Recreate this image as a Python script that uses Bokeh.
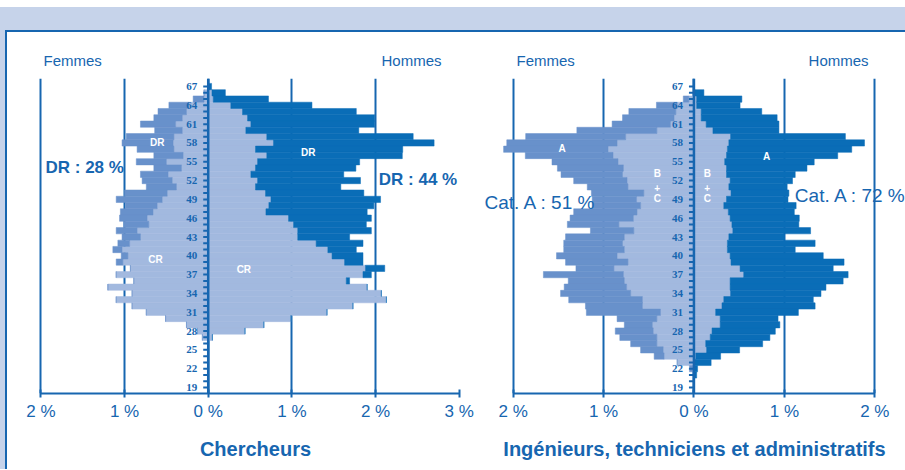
from bokeh.plotting import figure
from bokeh.models import Range1d, FixedTicker, Span, Label, Div, LinearAxis
from bokeh.layouts import row, column
from bokeh.embed import file_html
from bokeh.resources import INLINE
from bokeh.core.properties import value

# ---------------- data (percent of staff, by age 67 -> 19) ----------------
AGES = list(range(67, 18, -1))
AGE_LABELS = list(range(67, 18, -3))

# Chercheurs
CH_F_CR = [0, 0.05, 0.05, 0.23, 0.26, 0.31, 0.39, 0.31, 0.41, 0.42, 0.41, 0.30, 0.50, 0.32,
           0.48, 0.43, 0.38, 0.49, 0.55, 0.61, 0.66, 0.73, 0.71, 0.85, 0.81, 0.94, 1.03, 0.96,
           1.02, 0.93, 1.10, 0.89, 1.20, 0.91, 1.10, 0.91, 0.74, 0.51, 0.26, 0.13, 0.07,
           0, 0, 0, 0, 0, 0, 0, 0]
CH_F_DR = [0, 0, 0.13, 0.24, 0.34, 0.34, 0.42, 0.33, 0.57, 0.61, 0.44, 0.35, 0.36, 0.33,
           0.33, 0.36, 0.36, 0.51, 0.55, 0.38, 0.39, 0.33, 0.30, 0.25, 0.22, 0.14, 0.11, 0.08,
           0.08, 0, 0, 0, 0, 0, 0, 0, 0, 0, 0, 0, 0,
           0, 0, 0, 0, 0, 0, 0, 0]
CH_M_CR = [0, 0.045, 0.06, 0.27, 0.41, 0.47, 0.51, 0.45, 0.70, 0.78, 0.565, 0.70, 0.59, 0.565,
           0.51, 0.59, 0.565, 0.685, 0.75, 0.725, 0.69, 0.96, 1.02, 1.07, 1.07, 1.29, 1.43, 1.48,
           1.63, 1.88, 1.85, 1.65, 1.90, 2.07, 2.13, 1.73, 1.42, 0.99, 0.665, 0.44, 0.05,
           0, 0, 0, 0, 0, 0, 0, 0]
CH_M_DR = [0.04, 0.16, 0.66, 0.97, 1.36, 1.52, 1.48, 1.35, 1.75, 1.92, 1.76, 1.62, 1.22, 1.20,
           1.11, 1.23, 1.02, 1.175, 1.31, 1.255, 1.21, 0.99, 0.87, 0.88, 0.62, 0.56, 0.34, 0.37,
           0.22, 0.23, 0.10, 0.04, 0, 0, 0, 0, 0, 0, 0, 0, 0,
           0, 0, 0, 0, 0, 0, 0, 0]

# Ingenieurs, techniciens et administratifs
ITA_F_BC = [0, 0, 0.056, 0.185, 0.20, 0.22, 0.26, 0.41, 0.755, 0.85, 0.95, 0.895, 0.84, 0.78,
            0.79, 0.74, 0.73, 0.554, 0.635, 0.59, 0.63, 0.67, 0.83, 0.665, 0.77, 0.79, 0.77, 0.85,
            0.73, 0.885, 0.78, 0.77, 0.745, 0.70, 0.57, 0.57, 0.37, 0.41, 0.46, 0.45, 0.41,
            0.41, 0.34, 0.33, 0.185, 0, 0, 0, 0]
ITA_F_A = [0, 0, 0.062, 0.23, 0.52, 0.57, 0.645, 0.885, 1.106, 1.22, 1.155, 0.97, 0.73, 0.73,
           0.68, 0.59, 0.45, 0.58, 0.49, 0.535, 0.70, 0.70, 0.57, 0.48, 0.65, 0.65, 0.67, 0.67,
           0.69, 0.42, 0.885, 0.62, 0.69, 0.775, 0.815, 0.63, 0.82, 0.44, 0.31, 0.42, 0.41,
           0.29, 0.25, 0.11, 0, 0.05, 0, 0, 0]
ITA_M_BC = [0, 0.01, 0.03, 0.03, 0.08, 0.08, 0.135, 0.21, 0.405, 0.386, 0.37, 0.36, 0.34, 0.36,
            0.36, 0.40, 0.386, 0.41, 0.36, 0.33, 0.38, 0.40, 0.42, 0.43, 0.386, 0.37, 0.37, 0.40,
            0.41, 0.51, 0.55, 0.40, 0.40, 0.405, 0.33, 0.31, 0.24, 0.29, 0.29, 0.20, 0.18,
            0.13, 0.14, 0.02, 0, 0, 0, 0, 0]
ITA_M_A = [0, 0.10, 0.50, 0.48, 0.67, 0.84, 0.805, 0.73, 1.27, 1.50, 1.375, 1.23, 0.99, 0.89,
           0.76, 0.69, 0.645, 0.64, 0.68, 0.80, 0.73, 0.765, 0.74, 0.86, 0.615, 0.97, 0.75, 1.03,
           1.25, 1.03, 1.155, 1.25, 1.06, 1.00, 0.99, 1.03, 0.915, 0.64, 0.66, 0.70, 0.66,
           0.63, 0.365, 0.275, 0.19, 0.04, 0.03, 0, 0]

CH_TICKS = [-2, -1, 0, 1, 2, 3]
ITA_TICKS = [-2, -1, 0, 1, 2]
TICK_TEXT = {-2: "2 %", -1: "1 %", 0: "0 %", 1: "1 %", 2: "2 %", 3: "3 %"}
SEX_TEXT = ["Femmes", "Hommes"]

# ---------------- styles ----------------
BLUE = "#1766B0"
LIGHT = "#A2B9DF"
MED = "#6891CB"
DARK = "#0A6DB7"
BAND = "#C6D3EA"
SANS = "Liberation Sans"
Y0, Y1 = 18.04, 68.28
FIG_H = 437


def panel(width, bl, br, xr, ticks, f_in, f_out, m_in, m_out, px_unit, title, sex_pos):
    p = figure(width=width, height=FIG_H, x_range=Range1d(*xr), y_range=Range1d(Y0, Y1),
               output_backend="svg", toolbar_location=None, y_axis_location=None,
               min_border_left=bl, min_border_right=br, min_border_top=46,
               min_border_bottom=FIG_H - 46 - 315,
               outline_line_color=None, background_fill_color="white", border_fill_color="white")
    p.ygrid.visible = False
    p.xgrid.ticker = FixedTicker(ticks=[-2, -1, 0, 1, 2])
    p.xgrid.grid_line_color = BLUE
    p.xgrid.grid_line_width = 2
    ax = p.xaxis[0]
    ax.ticker = FixedTicker(ticks=ticks)
    ax.bounds = (ticks[0], ticks[-1])
    ax.major_label_overrides = {t: TICK_TEXT[t] for t in ticks}
    ax.axis_line_color = BLUE
    ax.axis_line_width = 2
    ax.major_tick_line_color = BLUE
    ax.major_tick_line_width = 2
    ax.major_tick_in = 4
    ax.major_tick_out = 4
    ax.minor_tick_line_color = None
    ax.major_label_standoff = 4
    ax.major_label_text_color = BLUE
    ax.major_label_text_font = SANS
    ax.major_label_text_font_size = "17px"
    ax.axis_label = title
    ax.axis_label_standoff = 14
    ax.axis_label_text_font = SANS
    ax.axis_label_text_font_size = "20px"
    ax.axis_label_text_font_style = "bold"
    ax.axis_label_text_color = BLUE

    top = LinearAxis(ticker=FixedTicker(ticks=sex_pos),
                     major_label_overrides={v: t for v, t in zip(sex_pos, SEX_TEXT)},
                     axis_line_color=None, major_tick_line_color=None,
                     minor_tick_line_color=None, major_tick_in=0, major_tick_out=0,
                     major_label_standoff=10, major_label_text_color=BLUE,
                     major_label_text_font=SANS, major_label_text_font_size="15px")
    p.add_layout(top, "above")

    f_tot = [a + b for a, b in zip(f_in, f_out)]
    m_tot = [a + b for a, b in zip(m_in, m_out)]
    p.hbar(y=AGES, left=[-v for v in f_in], right=0, height=1, fill_color=LIGHT,
           line_color=LIGHT, line_width=0.5)
    p.hbar(y=AGES, left=[-v for v in f_tot], right=[-v for v in f_in], height=1,
           fill_color=MED, line_color=MED, line_width=0.5)
    p.hbar(y=AGES, left=0, right=m_in, height=1, fill_color=LIGHT, line_color=LIGHT,
           line_width=0.5)
    p.hbar(y=AGES, left=m_in, right=m_tot, height=1, fill_color=DARK, line_color=DARK,
           line_width=0.5)

    p.segment(x0=[-5.0 / px_unit] * len(AGES), y0=AGES, x1=0, y1=AGES,
              line_color=BLUE, line_width=2)
    p.text(x=0, y=AGE_LABELS, text=[str(a) for a in AGE_LABELS], x_offset=-11,
           text_align="right", text_baseline="middle", text_font=value("Liberation Serif"),
           text_font_style="bold", text_font_size="11px", text_color=BLUE)
    p.add_layout(Span(location=0, dimension="height", line_color=BLUE, line_width=2.5))
    return p


def lab(p, x, y, t, size, style="normal", color=BLUE, align="left"):
    p.add_layout(Label(x=x, y=y, text=t, text_font=SANS, text_font_size=size,
                       text_font_style=style, text_color=color, text_align=align,
                       text_baseline="middle"))


# ---------------- left panel : Chercheurs (page x 7..478, frame 36..474) ----------------
p1 = panel(471, 29, 4, (-2.0526, 3.1829), CH_TICKS, CH_F_CR, CH_F_DR, CH_M_CR, CH_M_DR,
           83.66, "Chercheurs", [-1.62, 2.43])
lab(p1, -1.945, 54.13, "DR : 28 %", "17px", "bold")
lab(p1, 2.039, 52.17, "DR : 44 %", "17px", "bold")
p1.text(x=[-0.61, 1.195, -0.63, 0.426], y=[58.02, 56.43, 39.36, 37.77],
        text=["DR", "DR", "CR", "CR"], text_align="center", text_baseline="middle",
        text_font=value(SANS), text_font_size="10px", text_font_style="bold",
        text_color="white")

# ---------------- right panel : ITA (page x 478..905, frame 483..905) ----------------
p2 = panel(427, 5, 0, (-2.3274, 2.3396), ITA_TICKS, ITA_F_BC, ITA_F_A, ITA_M_BC, ITA_M_A,
           90.4, "Ingénieurs, techniciens et administratifs", [-1.64, 1.6])
lab(p2, -2.316, 48.55, "Cat. A : 51 %", "19px")
lab(p2, 1.116, 49.62, "Cat. A : 72 %", "19px")
p2.text(x=[-1.457, 0.803], y=[57.16, 55.83], text=["A", "A"], text_align="center",
        text_baseline="middle", text_font=value(SANS), text_font_size="10px",
        text_font_style="bold", text_color="white")
p2.text(x=[-0.406] * 3 + [0.147] * 3, y=[53.08, 50.84, 49.09] * 2,
        text=["B", "+", "C"] * 2, text_align="center", text_baseline="middle",
        text_font=value(SANS), text_font_size="10px", text_font_style="bold",
        text_color="white")

top_white = Div(text="", width=905, height=7, margin=0, styles={"background-color": "white"})
band = Div(text="", width=905, height=23, margin=0, styles={"background-color": BAND})
strip = Div(text="", width=5, height=FIG_H + 2, margin=0, styles={"background-color": BAND})
hline = Div(text="", width=900, height=2, margin=0, styles={"background-color": BLUE})
vline = Div(text="", width=2, height=FIG_H, margin=0, styles={"background-color": BLUE})

layout = column(top_white, band,
                row(strip, column(hline, row(vline, p1, p2))))
open("out.html", "w").write(file_html(layout, INLINE))
